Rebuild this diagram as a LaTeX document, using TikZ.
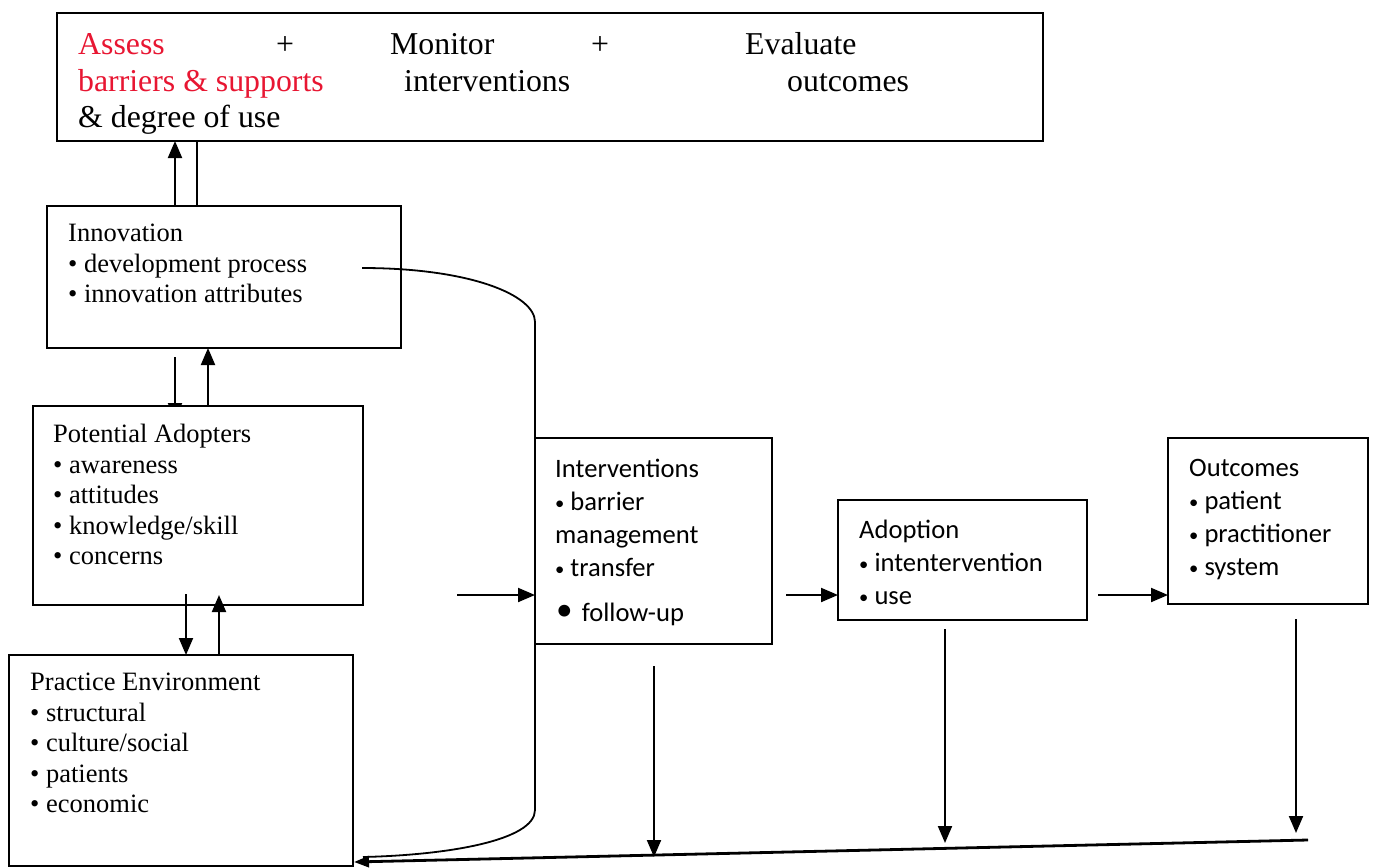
\documentclass[tikz,border=0pt]{standalone}
\usepackage{fontspec}
\setmainfont{Liberation Serif}
\newfontfamily\calib{Carlito}
\usetikzlibrary{arrows.meta,backgrounds}
\definecolor{assessred}{RGB}{232,22,50}
\newcommand{\sbul}{\raisebox{1pt}{\scalebox{0.7}{\textbullet}}}
\begin{document}
\begin{tikzpicture}[x=1pt,y=-1pt,
  box/.style={draw,line width=2pt,fill=white,inner sep=0pt,outer sep=0pt,anchor=north west,rectangle},
  serif/.style={inner sep=0pt,anchor=north west,align=left,font=\fontsize{26.5}{30.5}\selectfont},
  sans/.style={inner sep=0pt,anchor=north west,align=left,font=\calib\fontsize{26.6}{33}\selectfont},
  toptext/.style={inner sep=0pt,anchor=base west,font=\fontsize{31.8}{36}\selectfont},
  conn/.style={line width=2pt},
  arr/.style={conn,-{Triangle[length=17pt,width=14pt]}},
  ]
\useasboundingbox (0,0) rectangle (1375,867);

% boxes
\node[box,minimum width=986pt,minimum height=128pt] (top) at (57,13) {};
\node[box,minimum width=354pt,minimum height=142pt] (inno) at (47,206) {};
\begin{pgfonlayer}{background}
\coordinate (a2s) at (175,357);
\draw[arr] (a2s) -- (175,420) coordinate (a2e);
\end{pgfonlayer}
\node[box,minimum width=330pt,minimum height=199pt] (pa) at (33,406) {};
\node[box,minimum width=344pt,minimum height=211pt] (pe) at (9,655) {};
\node[box,minimum width=237pt,minimum height=206pt] (intv) at (535,438) {};
\node[box,minimum width=249pt,minimum height=120pt] (adop) at (838,500) {};
\node[box,minimum width=200pt,minimum height=166pt] (outc) at (1168,438) {};

% top box text
\node[toptext,text=assessred] (t1) at (78,55) {Assess};
\node[toptext,text=assessred] (t2) at (78,91) {barriers \& supports};
\node[toptext] (t3) at (78,127) {\& degree of use};
\node[toptext] (p1) at (276,55) {+};
\node[toptext] (m1) at (390,55) {Monitor};
\node[toptext] (m2) at (404,91) {interventions};
\node[toptext] (p2) at (591,55) {+};
\node[toptext] (e1) at (745,55) {Evaluate};
\node[toptext] (e2) at (787,91) {outcomes};

% box texts
\node[serif] (innoT) at (68,224) {Innovation\\\textbullet\ development process\\\textbullet\ innovation attributes};
\node[serif] (paT) at (53,424) {Potential Adopters\\\textbullet\ awareness\\\textbullet\ attitudes\\\textbullet\ knowledge/skill\\\textbullet\ concerns};
\node[serif] (peT) at (30,673) {Practice Environment\\\textbullet\ structural\\\textbullet\ culture/social\\\textbullet\ patients\\\textbullet\ economic};
\node[sans] (intvT) at (555,459) {Interventions\\\sbul\ barrier\\management\\\sbul\ transfer\\[12pt]\hspace{1pt}\raisebox{1pt}{\scalebox{1.25}{\textbullet}}\hspace{9pt}follow-up};
\node[sans] (adopT) at (859,520) {Adoption\\\sbul\ intentervention\\\sbul\ use};
\node[sans] (outcT) at (1189,459) {Outcomes\\\sbul\ patient\\\sbul\ practitioner\\\sbul\ system};

% vertical connectors on the left
\draw[arr] (inno.north -| 175,0) -- (top.south -| 175,0);
\draw[conn] (inno.north -| 197,0) -- (top.south -| 197,0);
\draw[arr] (pa.north -| 208,0) -- (inno.south -| 208,0);
\coordinate (a4s) at (186,594);
\draw[arr] (a4s) -- (pe.north -| a4s);
\coordinate (a5e) at (219,595);
\draw[arr] (pe.north -| a5e) -- (a5e);

% curve from innovation to practice environment
\coordinate (cs) at (362,268);
\coordinate (ce) at (363,857);
\draw[conn,line width=1.8pt] (cs) .. controls (470,268) and (535,295) .. (535,322)
  -- (535,810) .. controls (535,840) and (450,855) .. (ce);

% horizontal arrows
\coordinate (h1) at (457,595);
\draw[arr] (h1) -- (intv.west |- h1);
\coordinate (h2) at (786,595);
\draw[arr] (h2) -- (adop.west |- h2);
\coordinate (h3) at (1098,595);
\draw[arr] (h3) -- (outc.west |- h3);

% down arrows to the feedback line
\coordinate (d1s) at (654,666);
\coordinate (d1e) at (654,857);
\draw[arr] (d1s) -- (d1e);
\coordinate (d2s) at (945,629);
\coordinate (d2e) at (945,843);
\draw[arr] (d2s) -- (d2e);
\coordinate (d3s) at (1296,619);
\coordinate (d3e) at (1296,833);
\draw[arr] (d3s) -- (d3e);

% feedback line
\coordinate (fb) at (1308,840);
\coordinate (fbe) at (354,862);
\draw[conn,line width=2.8pt,-{Triangle[length=15pt,width=11pt]}] (fb) -- (fbe);
\end{tikzpicture}
\end{document}
